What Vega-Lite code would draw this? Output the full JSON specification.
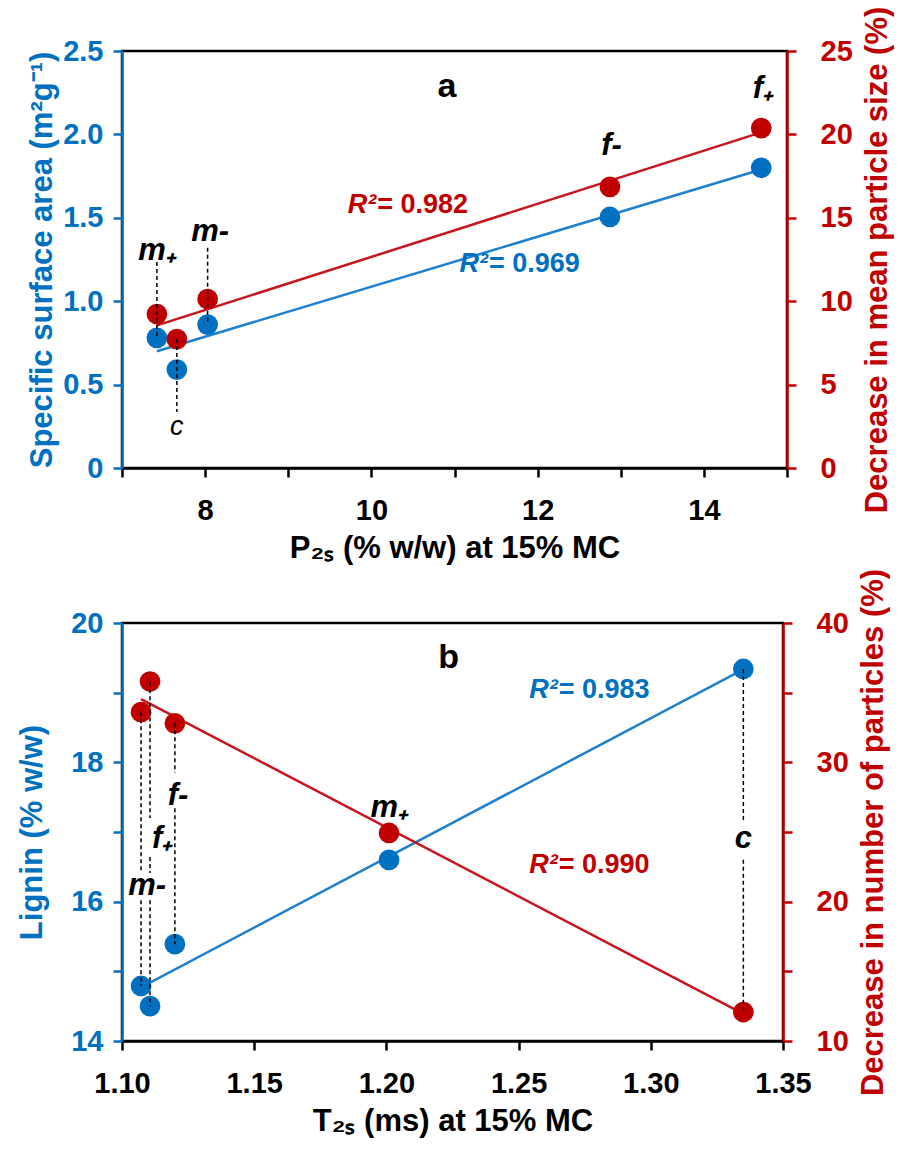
{
  "$schema": "https://vega.github.io/schema/vega-lite/v6.json",
  "padding": {"left": 15, "top": 4, "right": 3, "bottom": 5},
  "background": "white",
  "bounds": "flush",
  "spacing": 155,
  "datasets": {
    "a_pts": [
      {"sample": "m+", "x": 7.42, "var": "ssa", "v": 0.78},
      {"sample": "c", "x": 7.66, "var": "ssa", "v": 0.59},
      {"sample": "m-", "x": 8.03, "var": "ssa", "v": 0.86},
      {"sample": "f-", "x": 12.87, "var": "ssa", "v": 1.505},
      {"sample": "f+", "x": 14.69, "var": "ssa", "v": 1.80},
      {"sample": "m+", "x": 7.42, "var": "dec", "v": 9.23},
      {"sample": "c", "x": 7.66, "var": "dec", "v": 7.73},
      {"sample": "m-", "x": 8.03, "var": "dec", "v": 10.13},
      {"sample": "f-", "x": 12.87, "var": "dec", "v": 16.85},
      {"sample": "f+", "x": 14.69, "var": "dec", "v": 20.38}
    ],
    "a_fit": [
      {"var": "ssa", "x": 7.42, "v": 0.70},
      {"var": "ssa", "x": 14.69, "v": 1.79},
      {"var": "dec", "x": 7.42, "v": 8.55},
      {"var": "dec", "x": 14.69, "v": 20.12}
    ],
    "a_guides": [
      {"x": 7.42, "y1": 1.235, "y2": 0.78},
      {"x": 8.03, "y1": 1.32, "y2": 0.86},
      {"x": 7.66, "y1": 0.773, "y2": 0.336}
    ],
    "a_lab": [
      {"text": "m₊", "x": 7.42, "y": 1.247},
      {"text": "m-", "x": 8.06, "y": 1.361},
      {"text": "f-", "x": 12.89, "y": 1.876},
      {"text": "f₊", "x": 14.71, "y": 2.218}
    ],
    "a_c": [{"text": "c", "x": 7.66, "y": 0.198}],
    "a_letter": [{"text": "a", "x": 10.91, "y": 2.224}],
    "a_r2": [
      {"var": "dec", "r": "R²", "eq": "= 0.982", "x": 10.07, "y": 1.529},
      {"var": "ssa", "r": "R²", "eq": "= 0.969", "x": 11.415, "y": 1.175}
    ],
    "b_pts": [
      {"sample": "m-", "x": 1.1072, "var": "lig", "v": 14.79},
      {"sample": "f+", "x": 1.1106, "var": "lig", "v": 14.50},
      {"sample": "f-", "x": 1.120, "var": "lig", "v": 15.39},
      {"sample": "m+", "x": 1.201, "var": "lig", "v": 16.60},
      {"sample": "c", "x": 1.335, "var": "lig", "v": 19.34},
      {"sample": "m-", "x": 1.1072, "var": "num", "v": 33.6},
      {"sample": "f+", "x": 1.1106, "var": "num", "v": 35.8},
      {"sample": "f-", "x": 1.120, "var": "num", "v": 32.8},
      {"sample": "m+", "x": 1.201, "var": "num", "v": 24.93},
      {"sample": "c", "x": 1.335, "var": "num", "v": 12.08}
    ],
    "b_fit": [
      {"var": "lig", "x": 1.1072, "v": 14.77},
      {"var": "lig", "x": 1.335, "v": 19.335},
      {"var": "num", "x": 1.1072, "v": 34.54},
      {"var": "num", "x": 1.335, "v": 11.95}
    ],
    "b_guides": [
      {"x": 1.1072, "y1": 18.72, "y2": 16.43},
      {"x": 1.1072, "y1": 16.02, "y2": 14.79},
      {"x": 1.1106, "y1": 19.15, "y2": 17.20},
      {"x": 1.1106, "y1": 16.64, "y2": 16.41},
      {"x": 1.1106, "y1": 16.02, "y2": 14.50},
      {"x": 1.120, "y1": 18.56, "y2": 17.85},
      {"x": 1.120, "y1": 17.34, "y2": 15.39},
      {"x": 1.335, "y1": 19.34, "y2": 17.13},
      {"x": 1.335, "y1": 16.60, "y2": 14.42}
    ],
    "b_lab": [
      {"text": "m-", "x": 1.1095, "y": 16.10},
      {"text": "f₊", "x": 1.1152, "y": 16.77},
      {"text": "f-", "x": 1.1212, "y": 17.39},
      {"text": "m₊", "x": 1.2011, "y": 17.22},
      {"text": "c", "x": 1.335, "y": 16.77}
    ],
    "b_letter": [{"text": "b", "x": 1.2235, "y": 19.35}],
    "b_r2": [
      {"var": "lig", "r": "R²", "eq": "= 0.983", "x": 1.2652, "y": 18.92},
      {"var": "num", "r": "R²", "eq": "= 0.990", "x": 1.2652, "y": 16.41}
    ]
  },
  "vconcat": [
    {
      "width": 665,
      "height": 417,
      "encoding": {
        "x": {
          "field": "x", "type": "quantitative",
          "scale": {"domain": [7, 15], "nice": false, "zero": false},
          "axis": {
            "values": [7, 8, 9, 10, 11, 12, 13, 14, 15],
            "format": "d",
            "labelExpr": "datum.value % 2 == 0 ? datum.label : ''",
            "title": "P₂ₛ (% w/w) at 15% MC",
            "domainColor": "black", "tickColor": "black", "labelColor": "black", "titleColor": "black",
            "labelPadding": 19, "titlePadding": 8
          }
        }
      },
      "resolve": {"scale": {"y": "independent"}},
      "layer": [
        {
          "encoding": {
            "y": {
              "field": "v", "type": "quantitative",
              "scale": {"domain": [0, 2.5], "nice": false, "zero": false},
              "axis": {
                "values": [0, 0.5, 1, 1.5, 2, 2.5],
                "labelExpr": "datum.value == 0 ? '0' : format(datum.value, '.1f')",
                "title": "Specific surface area (m²g⁻¹)",
                "domainColor": "#0070C0", "tickColor": "#0070C0", "labelColor": "#0070C0", "titleColor": "#0070C0",
                "labelPadding": 10, "titlePadding": 4
              }
            }
          },
          "layer": [
            {"data": {"name": "a_fit"}, "transform": [{"filter": "datum.var == 'ssa'"}], "mark": {"type": "line", "color": "#1F80D0", "strokeWidth": 2.5}, "encoding": {}},
            {"data": {"name": "a_pts"}, "transform": [{"filter": "datum.var == 'ssa'"}], "mark": {"type": "circle", "color": "#0070C0", "size": 430, "opacity": 1}, "encoding": {}}
          ]
        },
        {
          "encoding": {
            "y": {
              "field": "v", "type": "quantitative",
              "scale": {"domain": [0, 25], "nice": false, "zero": false},
              "axis": {
                "orient": "right",
                "values": [0, 5, 10, 15, 20, 25],
                "format": "d",
                "title": "Decrease in mean particle size (%)",
                "titleAngle": 270, "titleBaseline": "top",
                "domainColor": "#C00000", "tickColor": "#C00000", "labelColor": "#C00000", "titleColor": "#C00000",
                "labelPadding": 24, "titlePadding": 10
              }
            }
          },
          "layer": [
            {"data": {"name": "a_fit"}, "transform": [{"filter": "datum.var == 'dec'"}], "mark": {"type": "line", "color": "#C8141C", "strokeWidth": 2.5}, "encoding": {}},
            {"data": {"name": "a_pts"}, "transform": [{"filter": "datum.var == 'dec'"}], "mark": {"type": "circle", "color": "#C00000", "size": 430, "opacity": 1}, "encoding": {}}
          ]
        },
        {
          "layer": [
            {
              "data": {"name": "a_guides"},
              "mark": {"type": "rule", "color": "black", "strokeWidth": 1.5, "strokeDash": [4, 3]},
              "encoding": {
                "y": {"field": "y1", "type": "quantitative", "scale": {"domain": [0, 2.5], "nice": false, "zero": false}, "axis": null},
                "y2": {"field": "y2"}
              }
            },
            {
              "data": {"name": "a_lab"},
              "mark": {"type": "text", "font": "Liberation Sans", "fontSize": 31, "fontWeight": "bold", "fontStyle": "italic", "align": "center", "baseline": "alphabetic", "color": "black"},
              "encoding": {
                "y": {"field": "y", "type": "quantitative", "scale": {"domain": [0, 2.5], "nice": false, "zero": false}, "axis": null},
                "text": {"field": "text"}
              }
            },
            {
              "data": {"name": "a_c"},
              "mark": {"type": "text", "font": "Liberation Sans", "fontSize": 27, "fontStyle": "italic", "align": "center", "baseline": "alphabetic", "color": "black"},
              "encoding": {
                "y": {"field": "y", "type": "quantitative", "scale": {"domain": [0, 2.5], "nice": false, "zero": false}, "axis": null},
                "text": {"field": "text"}
              }
            },
            {
              "data": {"name": "a_letter"},
              "mark": {"type": "text", "font": "Liberation Sans", "fontSize": 34, "fontWeight": "bold", "align": "center", "baseline": "alphabetic", "color": "black"},
              "encoding": {
                "y": {"field": "y", "type": "quantitative", "scale": {"domain": [0, 2.5], "nice": false, "zero": false}, "axis": null},
                "text": {"field": "text"}
              }
            },
            {
              "data": {"name": "a_r2"},
              "transform": [{"filter": "datum.var == 'dec'"}],
              "mark": {"type": "text", "font": "Liberation Sans", "fontSize": 27, "fontWeight": "bold", "fontStyle": "italic", "align": "right", "baseline": "alphabetic", "dx": -1, "color": "#C00000"},
              "encoding": {
                "y": {"field": "y", "type": "quantitative", "scale": {"domain": [0, 2.5], "nice": false, "zero": false}, "axis": null},
                "text": {"field": "r"}
              }
            },
            {
              "data": {"name": "a_r2"},
              "transform": [{"filter": "datum.var == 'dec'"}],
              "mark": {"type": "text", "font": "Liberation Sans", "fontSize": 27, "fontWeight": "bold", "align": "left", "baseline": "alphabetic", "color": "#C00000"},
              "encoding": {
                "y": {"field": "y", "type": "quantitative", "scale": {"domain": [0, 2.5], "nice": false, "zero": false}, "axis": null},
                "text": {"field": "eq"}
              }
            },
            {
              "data": {"name": "a_r2"},
              "transform": [{"filter": "datum.var == 'ssa'"}],
              "mark": {"type": "text", "font": "Liberation Sans", "fontSize": 27, "fontWeight": "bold", "fontStyle": "italic", "align": "right", "baseline": "alphabetic", "dx": -1, "color": "#0070C0"},
              "encoding": {
                "y": {"field": "y", "type": "quantitative", "scale": {"domain": [0, 2.5], "nice": false, "zero": false}, "axis": null},
                "text": {"field": "r"}
              }
            },
            {
              "data": {"name": "a_r2"},
              "transform": [{"filter": "datum.var == 'ssa'"}],
              "mark": {"type": "text", "font": "Liberation Sans", "fontSize": 27, "fontWeight": "bold", "align": "left", "baseline": "alphabetic", "color": "#0070C0"},
              "encoding": {
                "y": {"field": "y", "type": "quantitative", "scale": {"domain": [0, 2.5], "nice": false, "zero": false}, "axis": null},
                "text": {"field": "eq"}
              }
            }
          ]
        }
      ]
    },
    {
      "width": 661,
      "height": 418,
      "encoding": {
        "x": {
          "field": "x", "type": "quantitative",
          "scale": {"domain": [1.1, 1.35], "nice": false, "zero": false},
          "axis": {
            "values": [1.1, 1.15, 1.2, 1.25, 1.3, 1.35],
            "format": ".2f",
            "title": "T₂ₛ (ms) at 15% MC",
            "domainColor": "black", "tickColor": "black", "labelColor": "black", "titleColor": "black",
            "labelPadding": 19, "titlePadding": 8
          }
        }
      },
      "resolve": {"scale": {"y": "independent"}},
      "layer": [
        {
          "encoding": {
            "y": {
              "field": "v", "type": "quantitative",
              "scale": {"domain": [14, 20], "nice": false, "zero": false},
              "axis": {
                "values": [14, 15, 16, 17, 18, 19, 20],
                "format": "d",
                "labelExpr": "datum.value % 2 == 0 ? datum.label : ''",
                "title": "Lignin (% w/w)",
                "domainColor": "#0070C0", "tickColor": "#0070C0", "labelColor": "#0070C0", "titleColor": "#0070C0",
                "labelPadding": 10, "titlePadding": 22
              }
            }
          },
          "layer": [
            {"data": {"name": "b_fit"}, "transform": [{"filter": "datum.var == 'lig'"}], "mark": {"type": "line", "color": "#1F80D0", "strokeWidth": 2.5}, "encoding": {}},
            {"data": {"name": "b_pts"}, "transform": [{"filter": "datum.var == 'lig'"}], "mark": {"type": "circle", "color": "#0070C0", "size": 430, "opacity": 1}, "encoding": {}}
          ]
        },
        {
          "encoding": {
            "y": {
              "field": "v", "type": "quantitative",
              "scale": {"domain": [10, 40], "nice": false, "zero": false},
              "axis": {
                "orient": "right",
                "values": [10, 15, 20, 25, 30, 35, 40],
                "format": "d",
                "labelExpr": "datum.value % 10 == 0 ? datum.label : ''",
                "title": "Decrease in number of particles (%)",
                "titleAngle": 270, "titleBaseline": "top",
                "domainColor": "#C00000", "tickColor": "#C00000", "labelColor": "#C00000", "titleColor": "#C00000",
                "labelPadding": 24, "titlePadding": 10
              }
            }
          },
          "layer": [
            {"data": {"name": "b_fit"}, "transform": [{"filter": "datum.var == 'num'"}], "mark": {"type": "line", "color": "#C8141C", "strokeWidth": 2.5}, "encoding": {}},
            {"data": {"name": "b_pts"}, "transform": [{"filter": "datum.var == 'num'"}], "mark": {"type": "circle", "color": "#C00000", "size": 430, "opacity": 1}, "encoding": {}}
          ]
        },
        {
          "layer": [
            {
              "data": {"name": "b_guides"},
              "mark": {"type": "rule", "color": "black", "strokeWidth": 1.5, "strokeDash": [4, 3]},
              "encoding": {
                "y": {"field": "y1", "type": "quantitative", "scale": {"domain": [14, 20], "nice": false, "zero": false}, "axis": null},
                "y2": {"field": "y2"}
              }
            },
            {
              "data": {"name": "b_lab"},
              "mark": {"type": "text", "font": "Liberation Sans", "fontSize": 31, "fontWeight": "bold", "fontStyle": "italic", "align": "center", "baseline": "alphabetic", "color": "black"},
              "encoding": {
                "y": {"field": "y", "type": "quantitative", "scale": {"domain": [14, 20], "nice": false, "zero": false}, "axis": null},
                "text": {"field": "text"}
              }
            },
            {
              "data": {"name": "b_letter"},
              "mark": {"type": "text", "font": "Liberation Sans", "fontSize": 34, "fontWeight": "bold", "align": "center", "baseline": "alphabetic", "color": "black"},
              "encoding": {
                "y": {"field": "y", "type": "quantitative", "scale": {"domain": [14, 20], "nice": false, "zero": false}, "axis": null},
                "text": {"field": "text"}
              }
            },
            {
              "data": {"name": "b_r2"},
              "transform": [{"filter": "datum.var == 'lig'"}],
              "mark": {"type": "text", "font": "Liberation Sans", "fontSize": 27, "fontWeight": "bold", "fontStyle": "italic", "align": "right", "baseline": "alphabetic", "dx": -1, "color": "#0070C0"},
              "encoding": {
                "y": {"field": "y", "type": "quantitative", "scale": {"domain": [14, 20], "nice": false, "zero": false}, "axis": null},
                "text": {"field": "r"}
              }
            },
            {
              "data": {"name": "b_r2"},
              "transform": [{"filter": "datum.var == 'lig'"}],
              "mark": {"type": "text", "font": "Liberation Sans", "fontSize": 27, "fontWeight": "bold", "align": "left", "baseline": "alphabetic", "color": "#0070C0"},
              "encoding": {
                "y": {"field": "y", "type": "quantitative", "scale": {"domain": [14, 20], "nice": false, "zero": false}, "axis": null},
                "text": {"field": "eq"}
              }
            },
            {
              "data": {"name": "b_r2"},
              "transform": [{"filter": "datum.var == 'num'"}],
              "mark": {"type": "text", "font": "Liberation Sans", "fontSize": 27, "fontWeight": "bold", "fontStyle": "italic", "align": "right", "baseline": "alphabetic", "dx": -1, "color": "#C00000"},
              "encoding": {
                "y": {"field": "y", "type": "quantitative", "scale": {"domain": [14, 20], "nice": false, "zero": false}, "axis": null},
                "text": {"field": "r"}
              }
            },
            {
              "data": {"name": "b_r2"},
              "transform": [{"filter": "datum.var == 'num'"}],
              "mark": {"type": "text", "font": "Liberation Sans", "fontSize": 27, "fontWeight": "bold", "align": "left", "baseline": "alphabetic", "color": "#C00000"},
              "encoding": {
                "y": {"field": "y", "type": "quantitative", "scale": {"domain": [14, 20], "nice": false, "zero": false}, "axis": null},
                "text": {"field": "eq"}
              }
            }
          ]
        }
      ]
    }
  ],
  "config": {
    "font": "Liberation Sans",
    "view": {"stroke": "black", "strokeWidth": 2.5},
    "axis": {
      "grid": false,
      "labelFont": "Liberation Sans", "labelFontWeight": "bold", "labelFontSize": 29,
      "titleFont": "Liberation Sans", "titleFontWeight": "bold", "titleFontSize": 31,
      "tickSize": 9, "tickWidth": 2.5, "domainWidth": 2.5,
      "labelFlush": false, "labelOverlap": false
    }
  }
}
